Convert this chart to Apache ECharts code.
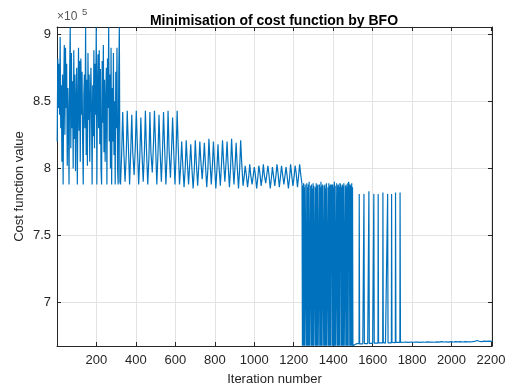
<!DOCTYPE html>
<html>
<head>
<meta charset="utf-8">
<script src="https://cdn.jsdelivr.net/npm/echarts@6/dist/echarts.min.js"></script>
<style>
  html, body { margin: 0; padding: 0; background: #fff; }
  #chart { width: 510px; height: 388px; }
</style>
</head>
<body>
<div id="chart"></div>
<script>
// cost values are in units of 10^5 (as on the axis)
// phase 1: chaotic start, one value every 3 iterations from iteration 1
var phase1Start = 1, phase1Step = 3;
var phase1Cost = [
  8.20,8.82,8.45,8.78,8.40,8.98,8.30,8.62,8.05,8.70,
  7.88,8.62,8.92,8.25,8.90,8.45,8.78,8.02,8.60,8.35,
  7.88,8.70,9.05,8.15,8.86,8.30,8.65,8.00,8.88,8.22,
  8.70,7.98,8.50,8.75,7.88,8.45,8.90,8.28,8.80,8.05,
  8.82,8.40,8.72,8.20,7.88,8.55,8.70,8.30,9.05,8.10,
  8.66,8.02,8.86,8.36,8.70,8.05,8.50,8.75,8.40,7.88,
  8.62,8.24,8.88,8.15,8.78,8.40,9.05,7.88,8.60,8.85,
  8.30,8.88,8.18,8.74,8.00,7.88,8.80,8.34,8.92,8.12,
  8.66,8.05,8.48,8.75,7.88,8.82,8.45,9.05,8.20,8.70,
  8.00,8.90,7.88,8.60,8.20,8.86,8.10,8.50,7.88,8.72,
  8.30,8.90,8.00,7.88,8.70,9.05,7.90
];
// phases 2-4: sawtooth teeth of 23 iterations; per tooth: low, rising kink, peak, falling kink
var toothLen = 23;
var toothOffsets = [0, 6, 11, 16];
var phase2Start = 322;
var phase2Low  = [7.88,7.90,7.88,7.95,7.88,7.90,7.88,7.97,7.88,7.90,7.88,7.93,7.88];
var phase2Rise = [8.12,8.10,8.14,8.16,8.10,8.12,8.08,8.18,8.12,8.14,8.10,8.15,8.12];
var phase2High = [8.42,8.43,8.40,8.43,8.38,8.43,8.42,8.43,8.40,8.42,8.43,8.38,8.43];
var phase2Fall = [8.15,8.20,8.12,8.18,8.14,8.16,8.12,8.20,8.15,8.18,8.14,8.16,8.18];
var phase3Start = 621;
var phase3Low  = [7.88,7.86,7.88,7.85,7.87,7.92,7.86,7.88,7.85,7.87,7.90,7.86,7.88,7.85];
var phase3Rise = [8.02,8.00,8.04,7.99,8.03,8.05,8.00,8.03,8.00,8.04,8.05,8.01,8.03,8.00];
var phase3High = [8.20,8.21,8.18,8.21,8.20,8.19,8.22,8.20,8.18,8.21,8.20,8.22,8.19,8.21];
var phase3Fall = [8.04,8.06,8.02,8.05,8.06,8.04,8.07,8.05,8.02,8.06,8.04,8.06,8.03,8.05];
var phase4Start = 943;
var phase4Low  = [7.87,7.86,7.88,7.85,7.87,7.89,7.85,7.87,7.86,7.88,7.85,7.87,7.86];
var phase4Rise = [7.94,7.94,7.95,7.93,7.94,7.96,7.93,7.95,7.94,7.95,7.93,7.94,7.95];
var phase4High = [8.02,8.03,8.01,8.02,8.03,8.02,8.01,8.03,8.02,8.01,8.03,8.02,8.03];
var phase4Fall = [7.96,7.95,7.96,7.97,7.95,7.96,7.95,7.97,7.96,7.95,7.96,7.97,7.96];
// phase 5: dense jumps between ~7.88 and the minimum, one value every 2 iterations
var phase5Start = 1242, phase5Step = 2;
var phase5Cost = [
  7.88,6.678,7.87,6.678,7.89,6.678,7.86,6.678,7.88,7.88,7.87,
  6.678,7.89,6.678,7.86,6.678,7.88,6.678,7.90,6.678,6.678,6.678,
  7.87,6.678,7.88,6.678,7.85,6.678,7.89,6.678,7.87,7.86,7.88,
  6.678,7.86,6.678,7.89,6.678,7.87,6.678,7.88,6.678,6.678,6.678,
  7.88,6.678,7.86,6.678,7.90,6.678,7.87,6.678,7.88,7.87,7.89,
  6.678,7.87,6.678,7.88,6.678,7.85,6.678,7.89,6.678,6.678,6.678,
  7.86,6.678,7.89,6.678,7.87,6.678,7.88,6.678,7.86,7.87,7.88,
  6.678,7.88,6.678,7.86,6.678,7.90,6.678,7.87,6.678,6.678,6.678,
  7.89,6.678,7.87,6.678,7.88,6.678,7.86,6.678,7.89,7.88,7.87,
  6.678,7.86,6.678,7.88,6.678,7.87,6.678,7.89,6.678,6.678,6.678,
  7.87,6.678,7.88,6.678,7.86,6.678,7.89,6.678,7.90,7.88,7.86,
  6.678,7.88,6.678,7.87,6.678,7.89,6.678,7.86,6.678,6.678,6.69
];
// phase 6: low baseline with periodic spikes to ~7.81
var phase6 = [
  [1509,6.690],[1518,6.693],[1526,6.690],[1531,6.693],[1532,7.81],[1534,6.692],[1543,6.695],[1550,6.692],
  [1555,6.695],[1556,7.81],[1558,6.694],[1568,6.697],[1575,6.694],[1580,6.697],[1581,7.83],[1583,6.695],
  [1593,6.698],[1600,6.695],[1605,6.697],[1606,7.81],[1608,6.697],[1618,6.700],[1627,6.698],[1628,7.81],
  [1630,6.699],[1640,6.702],[1651,6.699],[1652,7.82],[1654,6.701],[1665,6.698],[1675,6.702],[1676,7.81],
  [1678,6.700],[1688,6.703],[1695,6.700],[1696,7.81],[1698,6.702],[1708,6.704],[1715,6.701],[1716,7.82],
  [1718,6.703],[1728,6.700],[1738,6.703],[1739,7.82],[1741,6.703]
];
// phase 7: converged, one value every 6 iterations
var phase7Start = 1745, phase7Step = 6;
var phase7Cost = [
  6.702,6.697,6.704,6.699,6.705,6.698,6.703,6.700,6.706,6.699,
  6.704,6.701,6.706,6.698,6.705,6.700,6.703,6.699,6.706,6.701,
  6.704,6.700,6.707,6.701,6.705,6.699,6.706,6.702,6.704,6.700,
  6.707,6.702,6.705,6.701,6.708,6.702,6.706,6.701,6.707,6.703,
  6.705,6.701,6.708,6.703,6.706,6.702,6.709,6.703,6.707,6.702,
  6.708,6.704,6.706,6.703,6.709,6.704,6.707,6.703,6.707,6.705,
  6.708,6.704,6.710,6.705,6.717,6.704,6.711,6.706,6.709,6.705,
  6.712,6.707,6.710,6.706,6.713,6.709,6.711,6.710
];
var yTicks = [7, 7.5, 8, 8.5, 9];

var lineData = [];
function addSteps(start, step, values) {
  values.forEach(function (v, i) { lineData.push([start + i * step, v]); });
}
function addTeeth(start, low, rise, high, fall) {
  for (var k = 0; k < low.length; k++) {
    var t = start + k * toothLen;
    var vals = [low[k], rise[k], high[k], fall[k]];
    for (var j = 0; j < 4; j++) lineData.push([t + toothOffsets[j], vals[j]]);
  }
}
addSteps(phase1Start, phase1Step, phase1Cost);
addTeeth(phase2Start, phase2Low, phase2Rise, phase2High, phase2Fall);
addTeeth(phase3Start, phase3Low, phase3Rise, phase3High, phase3Fall);
addTeeth(phase4Start, phase4Low, phase4Rise, phase4High, phase4Fall);
addSteps(phase5Start, phase5Step, phase5Cost);
lineData = lineData.concat(phase6);
addSteps(phase7Start, phase7Step, phase7Cost);

var axisColor = '#262626';
var gridColor = '#e3e3e3';
var font = 'Liberation Sans, Arial, Helvetica, sans-serif';

var chart = echarts.init(document.getElementById('chart'), null, { renderer: 'canvas' });
chart.setOption({
  animation: false,
  backgroundColor: '#fff',
  title: {
    text: 'Minimisation of cost function by BFO',
    left: 269, top: 9, textAlign: 'center',
    textStyle: { fontFamily: font, fontSize: 14, fontWeight: 'bold', color: '#000' }
  },
  graphic: [
    { type: 'text', left: 57, top: 11, style: { text: '\u00d710', fontFamily: font, fontSize: 12, fill: '#555' } },
    { type: 'text', left: 82, top: 7, style: { text: '5', fontFamily: font, fontSize: 9.5, fill: '#555' } }
  ],
  grid: { left: 57, right: 18, top: 27, bottom: 42, outerBoundsMode: 'none', containLabel: false },
  xAxis: [{
    type: 'value', min: 0, max: 2205, interval: 200,
    name: 'Iteration number', nameLocation: 'middle', nameGap: 27,
    nameTextStyle: { fontFamily: font, fontSize: 13, color: axisColor },
    axisLine: { show: true, onZero: false, lineStyle: { color: axisColor, width: 1 } },
    axisTick: { inside: true, length: 4, lineStyle: { color: axisColor } },
    axisLabel: {
      margin: 8, fontFamily: font, fontSize: 13, color: axisColor,
      formatter: function (v) { return (v > 0 && v % 200 === 0) ? String(v) : ''; }
    },
    splitLine: { show: true, lineStyle: { color: gridColor, width: 1 } }
  }, {
    type: 'value', position: 'top', min: 0, max: 2205, interval: 200,
    axisLine: { show: true, onZero: false, lineStyle: { color: axisColor, width: 1 } },
    axisTick: { inside: true, length: 4, lineStyle: { color: axisColor } },
    axisLabel: { show: false },
    splitLine: { show: false }
  }],
  yAxis: [{
    type: 'value', min: 6.676, max: 9.054,
    name: 'Cost function value', nameLocation: 'middle', nameGap: 31, nameMoveOverlap: false,
    nameTextStyle: { fontFamily: font, fontSize: 13, color: axisColor },
    axisLine: { show: true, onZero: false, lineStyle: { color: axisColor, width: 1 } },
    axisTick: { inside: true, length: 4, customValues: yTicks, lineStyle: { color: axisColor } },
    axisLabel: { margin: 6, fontFamily: font, fontSize: 13, color: axisColor, customValues: yTicks,
      formatter: function (v) { return String(v); } },
    splitLine: { show: true, customValues: yTicks, lineStyle: { color: gridColor, width: 1 } }
  }, {
    type: 'value', position: 'right', min: 6.676, max: 9.054,
    axisLine: { show: true, onZero: false, lineStyle: { color: axisColor, width: 1 } },
    axisTick: { inside: true, length: 4, customValues: yTicks, lineStyle: { color: axisColor } },
    axisLabel: { show: false },
    splitLine: { show: false }
  }],
  series: [{
    type: 'line',
    xAxisIndex: 0, yAxisIndex: 0,
    data: lineData,
    showSymbol: false,
    symbol: 'none',
    sampling: null,
    clip: true,
    lineStyle: { color: '#0072BD', width: 1.2 },
    z: 3
  }]
});
</script>
</body>
</html>
